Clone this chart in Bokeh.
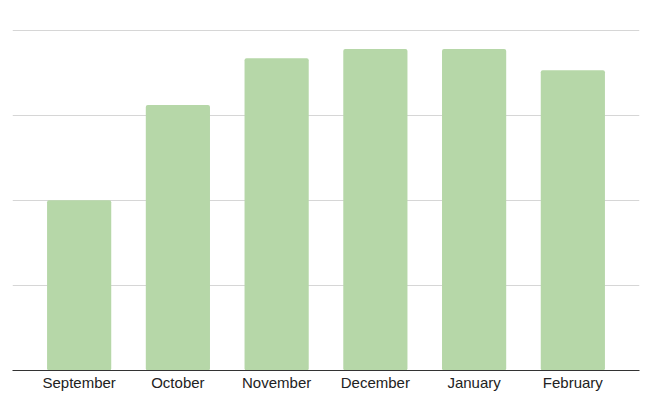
from bokeh.plotting import figure
from bokeh.models import ColumnDataSource, FactorRange, Range1d, FixedTicker
from bokeh.embed import file_html
from bokeh.resources import INLINE

# data
months = ["September", "October", "November", "December", "January", "February"]
values = [2.0, 3.12, 3.67, 3.78, 3.78, 3.53]
grid_levels = [1, 2, 3, 4]

source = ColumnDataSource(data={"month": months, "value": values})

p = figure(
    x_range=FactorRange(factors=months, range_padding=0.175, range_padding_units="absolute"),
    y_range=Range1d(0, 4.02),
    frame_width=627, frame_height=342,
    output_backend="svg", toolbar_location=None,
    min_border_left=12, min_border_right=8, min_border_top=28, min_border_bottom=0,
)

p.vbar(x="month", top="value", width=0.65, source=source,
       fill_color="#b6d7a8", line_color=None, border_radius=2)

p.outline_line_color = None
p.xgrid.grid_line_color = None
p.ygrid.ticker = FixedTicker(ticks=grid_levels)
p.ygrid.grid_line_color = "#d6d6d6"
p.ygrid.grid_line_width = 1

p.yaxis.visible = False

p.xaxis.axis_line_color = "#333333"
p.xaxis.axis_line_width = 1
p.xaxis.major_tick_line_color = None
p.xaxis.minor_tick_line_color = None
p.xaxis.major_label_text_font = "Liberation Sans"
p.xaxis.major_label_text_font_size = "15px"
p.xaxis.major_label_text_color = "#222222"
p.xaxis.major_label_standoff = -3

open("out.html", "w").write(file_html(p, INLINE))
